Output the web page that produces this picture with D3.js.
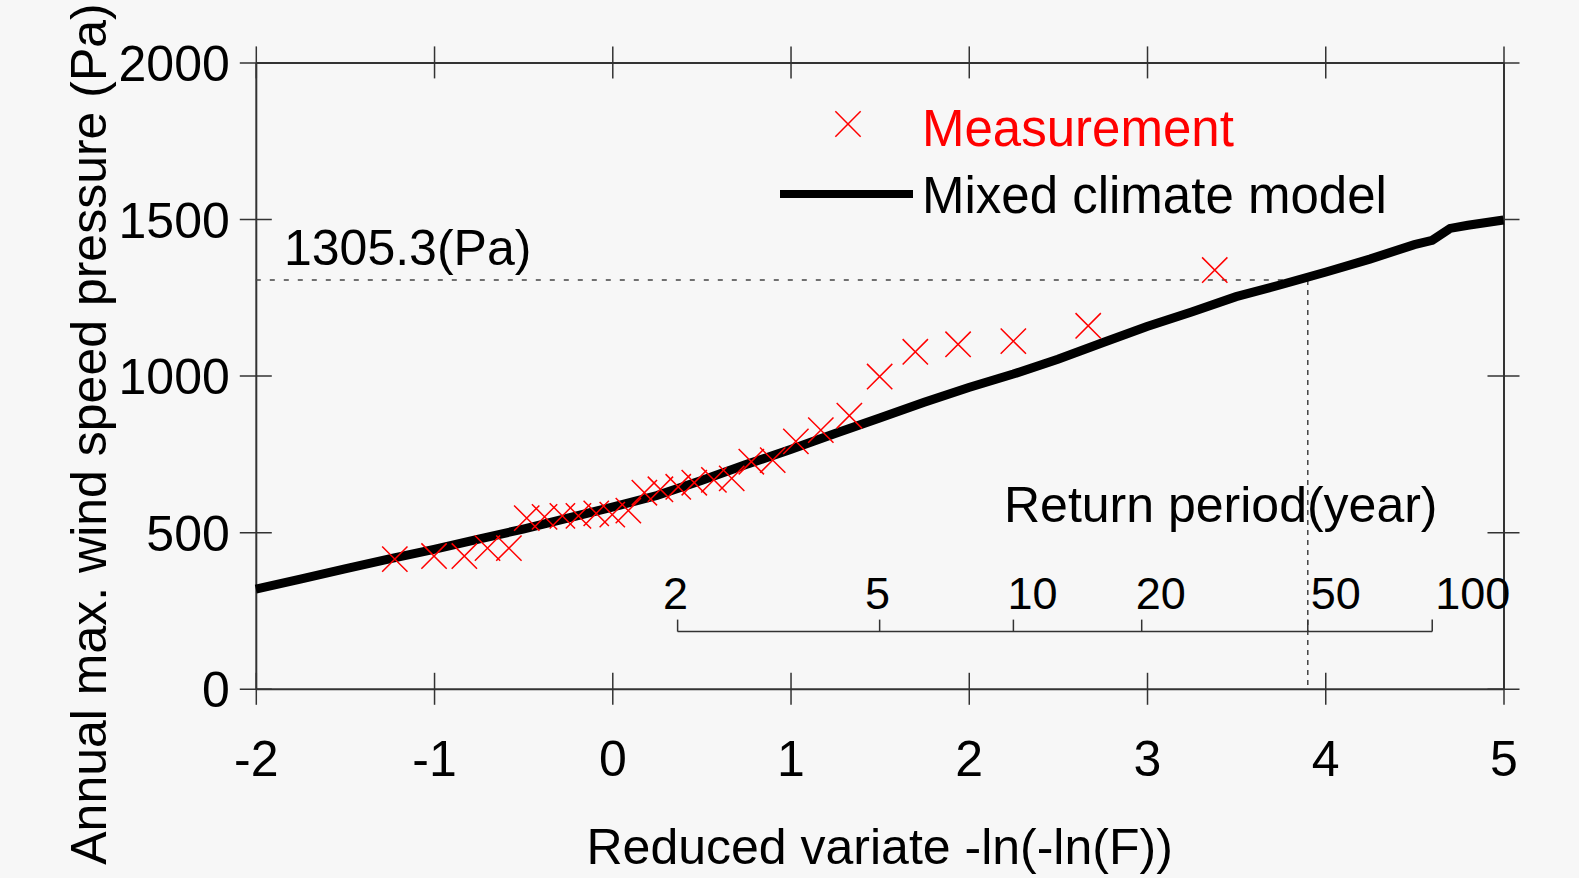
<!DOCTYPE html>
<html>
<head>
<meta charset="utf-8">
<script src="https://cdn.jsdelivr.net/npm/d3@7"></script>
<style>
  html, body { margin: 0; padding: 0; background: #f7f7f7; }
  svg { display: block; font-family: "Liberation Sans", Arial, sans-serif; }
  .axis path, .axis line { stroke: #333; }
  .axis text { fill: #000; font-size: 50px; font-family: "Liberation Sans", Arial, sans-serif; }
</style>
</head>
<body>
<script>
// reduced variate of each measurement (plotting position) and its pressure (Pa)
var measX = [-1.22, -1.00, -0.83, -0.70, -0.58, -0.48, -0.38, -0.28, -0.19, -0.09,
             0.00, 0.09, 0.18, 0.27, 0.37, 0.46, 0.57, 0.67, 0.78, 0.90,
             1.03, 1.17, 1.33, 1.50, 1.70, 1.94, 2.25, 2.67, 3.38];
var measY = [414, 424, 424, 449, 449, 545, 549, 552, 552, 560,
             556, 569, 626, 637, 645, 658, 667, 672, 725, 730,
             790, 826, 872, 997, 1076, 1100, 1110, 1159, 1337];

// mixed climate model curve
var modelX = [-2, -1.75, -1.5, -1.25, -1, -0.75, -0.5, -0.25, 0, 0.25, 0.5, 0.75, 1,
              1.25, 1.5, 1.75, 2, 2.25, 2.5, 2.75, 3, 3.25, 3.5, 3.75, 4, 4.25,
              4.5, 4.6, 4.7, 4.8, 5];
var modelY = [318, 350, 383, 415, 445, 478, 510, 545, 580, 617, 665, 716, 764,
              815, 865, 915, 962, 1005, 1052, 1105, 1157, 1203, 1252, 1290, 1330, 1372,
              1418, 1432, 1470, 1480, 1497];

var xTicks = [-2, -1, 0, 1, 2, 3, 4, 5];
var yTicks = [0, 500, 1000, 1500, 2000];
var returnPeriods = [2, 5, 10, 20, 50, 100];
var designValue = 1305.3;   // 50-year value
var designPeriod = 50;

var W = 1579, H = 878;
var svg = d3.select("body").append("svg")
    .attr("width", W)
    .attr("height", H);

var x = d3.scaleLinear().domain([-2, 5]).range([255.8, 1503.5]);
var y = d3.scaleLinear().domain([0, 2000]).range([688.8, 62.4]);

// gumbel reduced variate for a return period
function reduced(T) { return -Math.log(-Math.log(1 - 1 / T)); }

function crossTicks(g, horizontal) {
  g.select(".domain").attr("stroke-width", 2);
  g.selectAll(".tick line").attr("stroke-width", 1.5);
  if (horizontal) g.selectAll(".tick line").attr("y1", -16).attr("y2", 16);
  else g.selectAll(".tick line").attr("x1", -16).attr("x2", 16);
}

// bottom axis
var gb = svg.append("g").attr("class", "axis")
    .attr("transform", "translate(0," + y(0) + ")")
    .call(d3.axisBottom(x).tickValues(xTicks).tickSizeOuter(0).tickSizeInner(16)
      .tickFormat(function(d) { return d < 0 ? "-" + Math.abs(d) : d; }));
crossTicks(gb, true);
gb.selectAll("text").attr("y", 87).attr("dy", null);

// top axis
var gt = svg.append("g").attr("class", "axis")
    .attr("transform", "translate(0," + y(2000) + ")")
    .call(d3.axisTop(x).tickValues(xTicks).tickSizeOuter(0).tickSizeInner(16).tickFormat(""));
crossTicks(gt, true);

// left axis
var gl = svg.append("g").attr("class", "axis")
    .attr("transform", "translate(" + x(-2) + ",0)")
    .call(d3.axisLeft(y).tickValues(yTicks).tickSizeOuter(0).tickSizeInner(16)
      .tickFormat(function(d) { return String(d); }));
crossTicks(gl, false);
gl.selectAll("text").attr("x", -26).attr("dy", "0.36em");

// right axis
var gr = svg.append("g").attr("class", "axis")
    .attr("transform", "translate(" + x(5) + ",0)")
    .call(d3.axisRight(y).tickValues(yTicks).tickSizeOuter(0).tickSizeInner(16).tickFormat(""));
crossTicks(gr, false);

// axis titles
svg.append("text")
    .attr("transform", "translate(106,434) rotate(-90)")
    .attr("text-anchor", "middle")
    .style("font-size", "50px")
    .text("Annual max. wind speed pressure (Pa)");

svg.append("text")
    .attr("x", (x(-2) + x(5)) / 2)
    .attr("y", 864)
    .attr("text-anchor", "middle")
    .style("font-size", "50px")
    .text("Reduced variate -ln(-ln(F))");

// design value guide lines
var xd = x(reduced(designPeriod));
svg.append("line")
    .attr("x1", x(-2)).attr("x2", xd)
    .attr("y1", y(designValue)).attr("y2", y(designValue))
    .attr("stroke", "#444").attr("stroke-width", 1.5)
    .attr("stroke-dasharray", "5,9");
svg.append("line")
    .attr("x1", xd).attr("x2", xd)
    .attr("y1", y(designValue)).attr("y2", y(0))
    .attr("stroke", "#444").attr("stroke-width", 1.5)
    .attr("stroke-dasharray", "5,5");
svg.append("text")
    .attr("x", 284).attr("y", 265)
    .style("font-size", "50px")
    .text(designValue + "(Pa)");

// return period scale
var rpY = 631.6;
svg.append("line")
    .attr("x1", x(reduced(returnPeriods[0])))
    .attr("x2", x(reduced(returnPeriods[returnPeriods.length - 1])))
    .attr("y1", rpY).attr("y2", rpY)
    .attr("stroke", "#333").attr("stroke-width", 1.5);
svg.selectAll(".rp-tick")
    .data(returnPeriods)
    .enter()
    .append("line")
    .attr("class", "rp-tick")
    .attr("x1", function(d) { return x(reduced(d)); })
    .attr("x2", function(d) { return x(reduced(d)); })
    .attr("y1", rpY).attr("y2", rpY - 12)
    .attr("stroke", "#333").attr("stroke-width", 1.5);
svg.selectAll(".rp-label")
    .data(returnPeriods)
    .enter()
    .append("text")
    .attr("class", "rp-label")
    .attr("x", function(d) { return x(reduced(d)) + (d < 10 ? -2 : (d < 50 ? -6 : 3)); })
    .attr("y", 609)
    .attr("text-anchor", function(d) { return d < 10 ? "middle" : "start"; })
    .style("font-size", "45px")
    .text(function(d) { return d; });
svg.append("text")
    .attr("x", 1004).attr("y", 522)
    .style("font-size", "50px")
    .text("Return period(year)");

// model curve
var model = modelX.map(function(d, i) { return [d, modelY[i]]; });
svg.append("path")
    .datum(model)
    .attr("fill", "none")
    .attr("stroke", "#000")
    .attr("stroke-width", 9)
    .attr("d", d3.line()
      .x(function(d) { return x(d[0]); })
      .y(function(d) { return y(d[1]); }));

// measurements
var cross = d3.symbol().type(d3.symbolX).size(420);
var meas = measX.map(function(d, i) { return [d, measY[i]]; });
svg.selectAll(".meas")
    .data(meas)
    .enter()
    .append("path")
    .attr("class", "meas")
    .attr("d", cross)
    .attr("transform", function(d) { return "translate(" + x(d[0]) + "," + y(d[1]) + ")"; })
    .attr("fill", "none")
    .attr("stroke", "#ff0000")
    .attr("stroke-width", 1.5);

// legend
svg.append("path")
    .attr("d", cross)
    .attr("transform", "translate(848,124)")
    .attr("fill", "none")
    .attr("stroke", "#ff0000")
    .attr("stroke-width", 1.5);
svg.append("text")
    .attr("x", 922).attr("y", 146)
    .attr("fill", "#ff0000")
    .style("font-size", "51px")
    .text("Measurement");
svg.append("line")
    .attr("x1", 780).attr("x2", 913)
    .attr("y1", 194).attr("y2", 194)
    .attr("stroke", "#000").attr("stroke-width", 8);
svg.append("text")
    .attr("x", 922).attr("y", 213)
    .style("font-size", "51px")
    .text("Mixed climate model");
</script>
</body>
</html>
